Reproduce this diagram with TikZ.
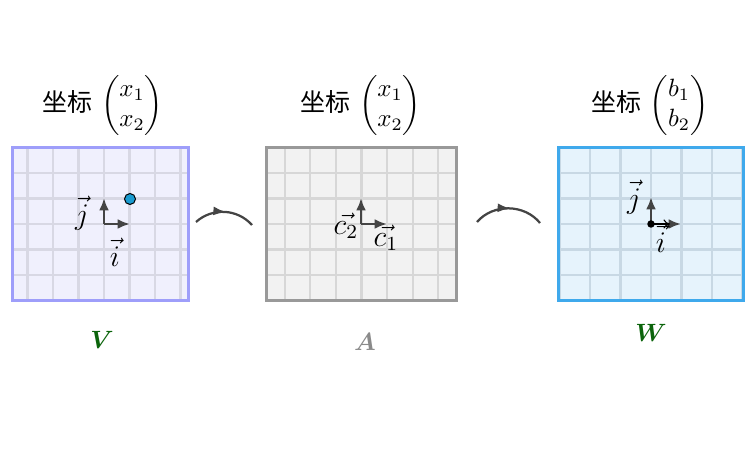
\documentclass[tikz,border=0pt]{standalone}
\usepackage{amsmath}
\usepackage{fontspec}
\newfontfamily\cjk{Noto Sans CJK SC}
\usetikzlibrary{arrows.meta,decorations.markings}
\definecolor{vfill}{HTML}{F0F0FD}
\definecolor{vborder}{HTML}{9E9EFA}
\definecolor{vgridc}{HTML}{D8D8E4}
\definecolor{afill}{HTML}{F2F2F2}
\definecolor{aborder}{HTML}{999999}
\definecolor{agridc}{HTML}{D7D7D7}
\definecolor{wfill}{HTML}{E6F3FC}
\definecolor{wborder}{HTML}{3FA9EC}
\definecolor{wgridc}{HTML}{C8D8E4}
\definecolor{vecc}{HTML}{444444}
\definecolor{dotc}{HTML}{1A9BD0}
\definecolor{labgreen}{HTML}{0B640B}
\definecolor{labgray}{HTML}{8A8A8A}
\tikzset{
  panel/.style={rectangle, inner sep=0pt, minimum height=60.8pt},
  gridline/.style={line width=0.9pt},
  border/.style={line width=1.1pt},
  vecarrow/.style={draw=vecc, line width=1pt, -{Latex[length=5pt,width=4pt]}},
  thinarrow/.style={draw=black, line width=0.45pt, -{To[length=2.6pt,width=3.6pt]}},
  maparrow/.style={draw=vecc, line width=0.9pt,
    postaction={decorate},
    decoration={markings, mark=at position 0.52 with {\arrow{Latex[length=5pt,width=3.6pt]}}}},
  title/.style={inner sep=0pt},
  veclabel/.style={inner sep=0pt, font=\large},
  spacelabel/.style={inner sep=0pt}
}
\begin{document}
\begin{tikzpicture}[x=0.4pt,y=-0.4pt]
\useasboundingbox (0,0) rectangle (754,472);

% ---- panel V ----
\node[panel, fill=vfill, minimum width=70pt] (V) at (100.5,224) {};
\begin{scope}
  \clip (V.south west) rectangle (V.north east);
  \foreach \k in {-4,...,4} {
    \draw[gridline, vgridc] ({104+25.5*\k},140) -- ({104+25.5*\k},310);
    \draw[gridline, vgridc] (0,{224+25.5*\k}) -- (200,{224+25.5*\k});
  }
\end{scope}
\draw[border, vborder] (V.south west) rectangle (V.north east);

% ---- panel A ----
\node[panel, fill=afill, minimum width=75.6pt] (A) at (361.5,224) {};
\begin{scope}
  \clip (A.south west) rectangle (A.north east);
  \foreach \k in {-4,...,4} {
    \draw[gridline, agridc] ({361.5+25.6*\k},140) -- ({361.5+25.6*\k},310);
    \draw[gridline, agridc] (250,{224+25.5*\k}) -- (470,{224+25.5*\k});
  }
\end{scope}
\draw[border, aborder] (A.south west) rectangle (A.north east);

% ---- panel W ----
\node[panel, fill=wfill, minimum width=73.6pt] (W) at (651,224) {};
\begin{scope}
  \clip (W.south west) rectangle (W.north east);
  \foreach \k in {-4,...,4} {
    \draw[gridline, wgridc] ({651+30.5*\k},140) -- ({651+30.5*\k},310);
    \draw[gridline, wgridc] (550,{224+25.5*\k}) -- (750,{224+25.5*\k});
  }
\end{scope}
\draw[border, wborder] (W.south west) rectangle (W.north east);

% ---- titles ----
\node[title] (tV) at (103,105.5) {{\cjk 坐标} $\begin{pmatrix}x_1\\x_2\end{pmatrix}$};
\node[title] (tA) at (361,105.5) {{\cjk 坐标} $\begin{pmatrix}x_1\\x_2\end{pmatrix}$};
\node[title] (tW) at (650,105.5) {{\cjk 坐标} $\begin{pmatrix}b_1\\b_2\end{pmatrix}$};

% ---- vectors in V ----
\coordinate (Vo) at (104,224);
\coordinate (Vi) at (130,224);
\coordinate (Vj) at (104,198);
\draw[vecarrow] (Vo) -- (Vi);
\draw[vecarrow] (Vo) -- (Vj);
\node[circle, fill=dotc, draw=black, line width=0.4pt, minimum size=4.4pt, inner sep=0pt] (P) at (130,199) {};
\node[veclabel] (Vjl) at (82,213) {$\vec{j}$};
\node[veclabel] (Vil) at (115,252) {$\vec{i}$};

% ---- vectors in A ----
\coordinate (Ao) at (361,224);
\coordinate (Ac1) at (387,224);
\coordinate (Ac2) at (361,198);
\draw[vecarrow] (Ao) -- (Ac1);
\draw[vecarrow] (Ao) -- (Ac2);
\node[veclabel] (Ac2l) at (346,226) {$\vec{c_2}$};
\node[veclabel] (Ac1l) at (386,238) {$\vec{c_1}$};

% ---- vectors in W ----
\coordinate (Wo) at (651,224);
\coordinate (Wi) at (681,224);
\coordinate (Wi2) at (670,224);
\coordinate (Wj) at (651,197);
\draw[vecarrow] (Wo) -- (Wi);
\draw[vecarrow] (Wo) -- (Wj);
\draw[thinarrow] (Wo) -- (Wi2);
\node[circle, fill=black, minimum size=3pt, inner sep=0pt] (Wdot) at (Wo) {};
\node[veclabel] (Wjl) at (634,197) {$\vec{j}$};
\node[veclabel] (Wil) at (661,238) {$\vec{i}$};

% ---- mapping arcs ----
\coordinate (m1s) at (196,222);
\coordinate (m1e) at (252,225);
\coordinate (m2s) at (477,222);
\coordinate (m2e) at (540,223);
\draw[maparrow] (m1s) to[bend left=45] (m1e);
\draw[maparrow] (m2s) to[bend left=50] (m2e);

% ---- space labels ----
\node[spacelabel, text=labgreen] (Vl) at (102,340) {$\boldsymbol{V}$};
\node[spacelabel, text=labgray] (Al) at (365,342) {$\boldsymbol{A}$};
\node[spacelabel, text=labgreen] (Wl) at (651,333) {$\boldsymbol{W}$};
\end{tikzpicture}
\end{document}
